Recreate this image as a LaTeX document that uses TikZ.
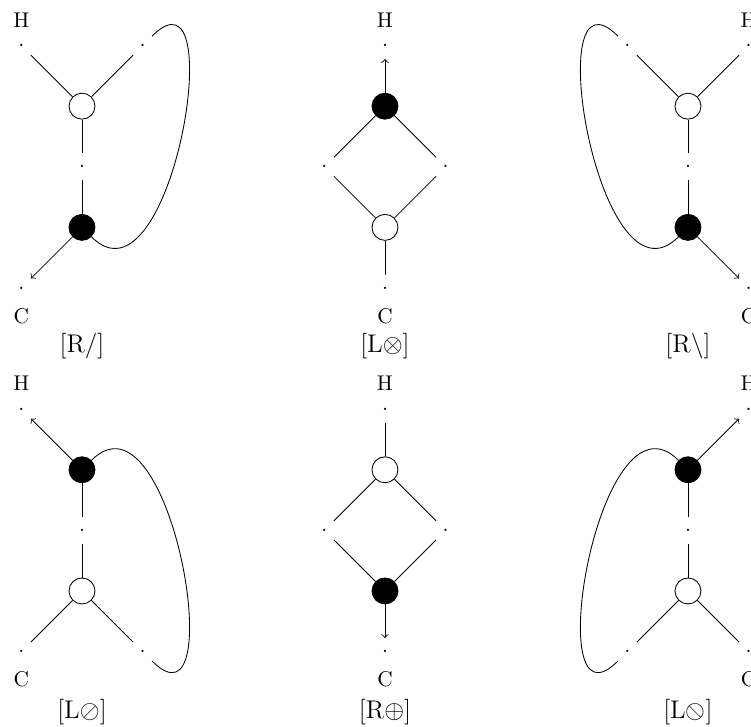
\documentclass[tikz,border=0pt]{standalone}
\usepackage{amssymb}
\usepackage{stmaryrd}
\begin{document}
\begin{tikzpicture}[
  >=to,
  pt/.style={circle, inner sep=0pt, minimum size=12.2pt},
  dotn/.style={pt},
  bl/.style={pt, draw, fill=black},
  wh/.style={pt, draw, fill=white},
  lab/.style={font=\large},
  txt/.style={inner sep=0pt},
  loop/.style={looseness=1.38}
]
\useasboundingbox (-1.353,-7.243) rectangle (11.04,4.752);

% Panel 1 [R/]
\node[dotn] (a1) at (-1,4) {.};
\node[dotn] (b1) at (1,4) {.};
\node[wh] (w1) at (0,3) {};
\node[dotn] (m1) at (0,2) {.};
\node[bl] (k1) at (0,1) {};
\node[dotn] (c1) at (-1,0) {.};
\node[txt] (h1) at (-1,4.42) {H};
\node[txt] (cc1) at (-1,-0.47) {C};
\node[lab] (l1) at (0,-0.96) {[R/]};
\draw (a1) -- (w1);
\draw (b1) -- (w1);
\draw (w1) -- (m1);
\draw (m1) -- (k1);
\draw[->] (k1) -- (c1);
\draw (k1) to[out=-45,in=45,loop] (b1);

% Panel 2 [L otimes]
\node[dotn] (t2) at (5,4) {.};
\node[bl] (k2) at (5,3) {};
\node[dotn] (l2) at (4,2) {.};
\node[dotn] (r2) at (6,2) {.};
\node[wh] (w2) at (5,1) {};
\node[dotn] (c2) at (5,0) {.};
\node[txt] (h2) at (5,4.42) {H};
\node[txt] (cc2) at (5,-0.47) {C};
\node[lab] (lb2) at (5,-0.96) {[L$\otimes$]};
\draw[->] (k2) -- (t2);
\draw (k2) -- (l2);
\draw (k2) -- (r2);
\draw (l2) -- (w2);
\draw (r2) -- (w2);
\draw (w2) -- (c2);

% Panel 3 [R\]
\node[dotn] (a3) at (9,4) {.};
\node[dotn] (b3) at (11,4) {.};
\node[wh] (w3) at (10,3) {};
\node[dotn] (m3) at (10,2) {.};
\node[bl] (k3) at (10,1) {};
\node[dotn] (c3) at (11,0) {.};
\node[txt] (h3) at (11,4.42) {H};
\node[txt] (cc3) at (11,-0.47) {C};
\node[lab] (lb3) at (10,-0.96) {[R$\backslash$]};
\draw (a3) -- (w3);
\draw (b3) -- (w3);
\draw (w3) -- (m3);
\draw (m3) -- (k3);
\draw[->] (k3) -- (c3);
\draw (k3) to[out=-135,in=135,loop] (a3);

% Panel 4 [L oslash]
\node[dotn] (a4) at (-1,-2) {.};
\node[bl] (k4) at (0,-3) {};
\node[dotn] (m4) at (0,-4) {.};
\node[wh] (w4) at (0,-5) {};
\node[dotn] (c4) at (-1,-6) {.};
\node[dotn] (d4) at (1,-6) {.};
\node[txt] (h4) at (-1,-1.57) {H};
\node[txt] (cc4) at (-1,-6.45) {C};
\node[lab] (lb4) at (0,-7.0) {[L$\oslash$]};
\draw[->] (k4) -- (a4);
\draw (k4) -- (m4);
\draw (m4) -- (w4);
\draw (w4) -- (c4);
\draw (w4) -- (d4);
\draw (k4) to[out=45,in=-45,loop] (d4);

% Panel 5 [R oplus]
\node[dotn] (t5) at (5,-2) {.};
\node[wh] (w5) at (5,-3) {};
\node[dotn] (l5) at (4,-4) {.};
\node[dotn] (r5) at (6,-4) {.};
\node[bl] (k5) at (5,-5) {};
\node[dotn] (c5) at (5,-6) {.};
\node[txt] (h5) at (5,-1.57) {H};
\node[txt] (cc5) at (5,-6.45) {C};
\node[lab] (lb5) at (5,-7.0) {[R$\oplus$]};
\draw (t5) -- (w5);
\draw (w5) -- (l5);
\draw (w5) -- (r5);
\draw (l5) -- (k5);
\draw (r5) -- (k5);
\draw[->] (k5) -- (c5);

% Panel 6 [L obslash]
\node[dotn] (b6) at (11,-2) {.};
\node[bl] (k6) at (10,-3) {};
\node[dotn] (m6) at (10,-4) {.};
\node[wh] (w6) at (10,-5) {};
\node[dotn] (c6) at (9,-6) {.};
\node[dotn] (d6) at (11,-6) {.};
\node[txt] (h6) at (11,-1.57) {H};
\node[txt] (cc6) at (11,-6.45) {C};
\node[lab] (lb6) at (10,-7.0) {[L$\obslash$]};
\draw[->] (k6) -- (b6);
\draw (k6) -- (m6);
\draw (m6) -- (w6);
\draw (w6) -- (c6);
\draw (w6) -- (d6);
\draw (k6) to[out=135,in=-135,loop] (c6);
\end{tikzpicture}
\end{document}
